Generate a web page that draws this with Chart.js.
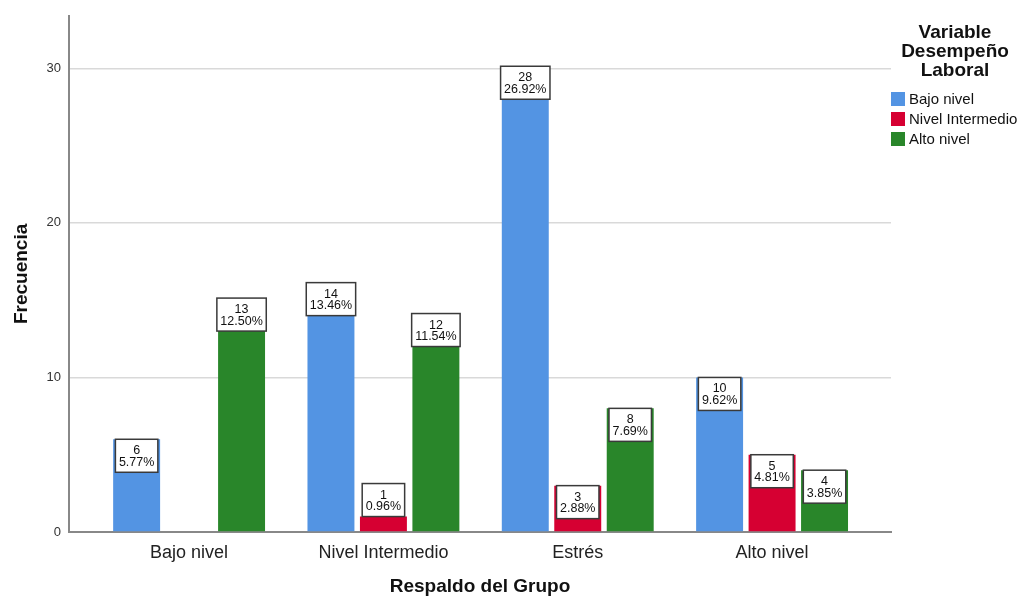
<!DOCTYPE html>
<html>
<head>
<meta charset="utf-8">
<script src="https://cdn.jsdelivr.net/npm/chart.js@4/dist/chart.umd.min.js"></script>
<style>
  html, body { margin: 0; padding: 0; background: #fff; }
  #wrap { width: 1020px; height: 598px; position: relative; }
</style>
</head>
<body>
<div id="wrap"><canvas id="myBarChart"></canvas></div>
<script>
// data
var categories = ['Bajo nivel', 'Nivel Intermedio', 'Estrés', 'Alto nivel'];
var seriesNames = ['Bajo nivel', 'Nivel Intermedio', 'Alto nivel'];
var bajoNivel = [6, 14, 28, 10];
var nivelIntermedio = [0, 1, 3, 5];
var altoNivel = [13, 12, 8, 4];
var yTicks = [0, 10, 20, 30];
var legendTitle = ['Variable', 'Desempeño', 'Laboral'];

// where SPSS put each value box: true = above the bar top, false = inside
var boxAbove = [
    [false, true, true, false],
    [false, true, false, false],
    [true, true, false, false]
];

var colors = ['#5394e3', '#d60032', '#29862a'];
var allValues = [bajoNivel, nivelIntermedio, altoNivel];
var total = allValues.flat().reduce(function (a, b) { return a + b; }, 0);
var FONT = '"Liberation Sans", Arial, sans-serif';

function toPoints(arr) {
    return arr.map(function (v, i) { return { x: i, y: v }; });
}

var valueBoxes = {
    id: 'valueBoxes',
    afterDatasetsDraw: function (chart) {
        var ctx = chart.ctx;
        ctx.save();
        ctx.font = '12.5px ' + FONT;
        ctx.textAlign = 'center';
        ctx.textBaseline = 'alphabetic';
        chart.data.datasets.forEach(function (ds, di) {
            chart.getDatasetMeta(di).data.forEach(function (bar, i) {
                var v = ds.data[i].y;
                if (!v) return;
                var pct = (v / total * 100).toFixed(2) + '%';
                var w = Math.max(ctx.measureText(pct).width, ctx.measureText(String(v)).width) + 7;
                var h = 33;
                var top = boxAbove[di][i] ? bar.y - h : bar.y;
                var left = bar.x - w / 2;
                ctx.fillStyle = '#fff';
                ctx.fillRect(left, top, w, h);
                ctx.lineWidth = 1.5;
                ctx.strokeStyle = '#3a3a3a';
                ctx.strokeRect(left, top, w, h);
                ctx.fillStyle = '#111';
                ctx.fillText(String(v), bar.x, top + 15);
                ctx.fillText(pct, bar.x, top + 26.5);
            });
        });
        ctx.restore();
    }
};

var sideLegend = {
    id: 'sideLegend',
    afterDraw: function (chart) {
        var ctx = chart.ctx;
        ctx.save();
        ctx.fillStyle = '#111';
        ctx.textAlign = 'center';
        ctx.textBaseline = 'middle';
        ctx.font = 'bold 19px ' + FONT;
        legendTitle.forEach(function (t, i) {
            ctx.fillText(t, 955, 33 + i * 19);
        });
        ctx.textAlign = 'left';
        ctx.font = '15px ' + FONT;
        chart.data.datasets.forEach(function (ds, i) {
            var cy = 99 + i * 20;
            ctx.fillStyle = ds.backgroundColor;
            ctx.fillRect(891, cy - 7, 14, 14);
            ctx.fillStyle = '#111';
            ctx.fillText(ds.label, 909, cy + 1);
        });
        ctx.restore();
    }
};

var ctx = document.getElementById('myBarChart').getContext('2d');
var myBarChart = new Chart(ctx, {
    type: 'bar',
    data: {
        datasets: [
            { label: seriesNames[0], data: toPoints(bajoNivel), backgroundColor: colors[0] },
            { label: seriesNames[1], data: toPoints(nivelIntermedio), backgroundColor: colors[1] },
            { label: seriesNames[2], data: toPoints(altoNivel), backgroundColor: colors[2] }
        ]
    },
    options: {
        responsive: true,
        maintainAspectRatio: false,
        animation: false,
        categoryPercentage: 0.81,
        barPercentage: 0.895,
        layout: { padding: { left: 0, right: 129, top: 14, bottom: 0 } },
        plugins: {
            legend: { display: false },
            tooltip: { enabled: false }
        },
        scales: {
            x: {
                type: 'linear',
                offset: false,
                min: -0.618,
                max: 3.612,
                afterBuildTicks: function (s) {
                    s.ticks = categories.map(function (c, i) { return { value: i }; });
                },
                afterFit: function (s) { s.height = 66; },
                ticks: {
                    autoSkip: false,
                    maxRotation: 0,
                    padding: 10,
                    color: '#222',
                    font: { family: FONT, size: 18 },
                    callback: function (v) { return categories[v]; }
                },
                grid: { display: false, drawTicks: false, offset: false },
                border: { color: '#888', width: 2 },
                title: {
                    display: true,
                    text: 'Respaldo del Grupo',
                    color: '#111',
                    font: { family: FONT, size: 19, weight: 'bold' },
                    padding: { top: 2, bottom: 0 }
                }
            },
            y: {
                min: 0,
                max: 33.4,
                afterBuildTicks: function (s) {
                    s.ticks = yTicks.map(function (v) { return { value: v }; });
                },
                afterFit: function (s) { s.width = 69; },
                ticks: {
                    padding: 8,
                    color: '#333',
                    font: { family: FONT, size: 13 }
                },
                grid: {
                    drawTicks: false,
                    lineWidth: 1.5,
                    color: function (c) { return c.tick && c.tick.value === 0 ? 'rgba(0,0,0,0)' : '#d9d9d9'; }
                },
                border: { color: '#888', width: 2 },
                title: {
                    display: true,
                    text: 'Frecuencia',
                    color: '#111',
                    font: { family: FONT, size: 19, weight: 'bold' },
                    padding: { top: 10, bottom: 0 }
                }
            }
        }
    },
    plugins: [valueBoxes, sideLegend]
});
</script>
</body>
</html>
